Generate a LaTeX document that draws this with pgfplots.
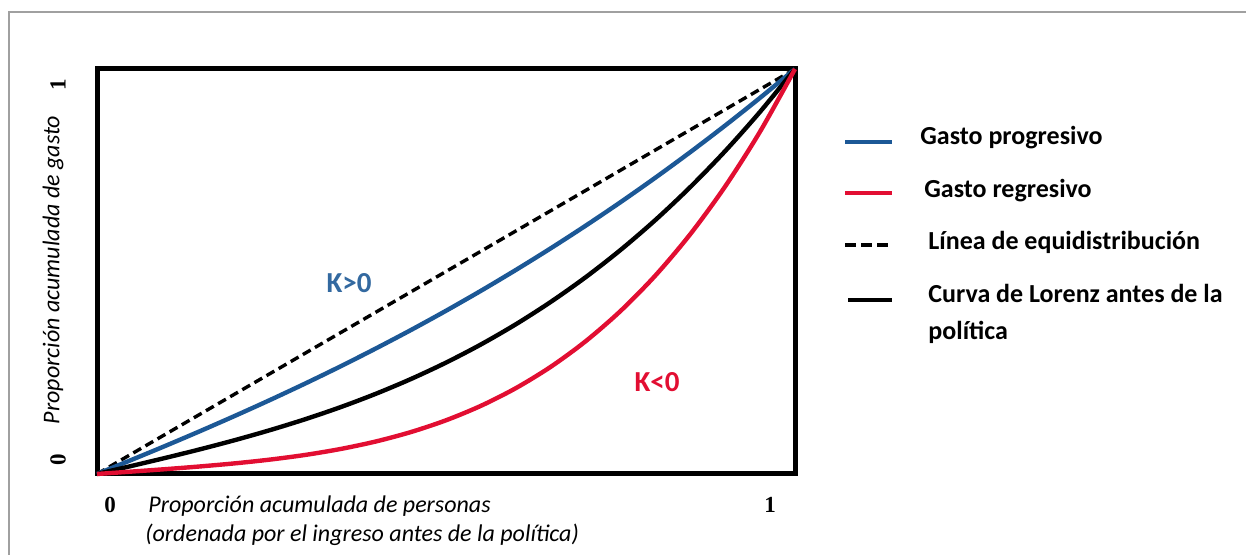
\documentclass[border=0pt]{standalone}
\usepackage{pgfplots}
\pgfplotsset{compat=1.18}
\usepackage{fontspec}
\setmainfont{Carlito}
\newfontfamily\tickfont{Liberation Serif}
\definecolor{progblue}{RGB}{28,88,150}
\definecolor{regred}{RGB}{226,14,50}
\definecolor{frameg}{RGB}{160,160,160}
\begin{document}
\begin{tikzpicture}
\path[use as bounding box] (0,0) rectangle (623pt,277.5pt);
\draw[frameg, line width=0.9pt] (4.5pt,-2pt) -- (4.5pt,271.5pt) -- (630pt,271.5pt);
\begin{axis}[
  at={(48.5pt,40.5pt)}, anchor=south west,
  scale only axis, width=349pt, height=202.5pt,
  xmin=0, xmax=1, ymin=0, ymax=1,
  ticks=none,
  axis line style={line width=2.5pt, line join=miter},
  clip=false,
]
\addplot[black, line width=1.7pt, dash pattern=on 4.5pt off 2.5pt] coordinates {(0,0) (1,1)};
\addplot[progblue, line width=2.2pt, smooth] coordinates {
 (0,0) (0.05,0.0352) (0.1,0.0709) (0.15,0.1076) (0.2,0.1454) (0.25,0.1844) (0.3,0.2248) (0.35,0.2667) (0.4,0.3104) (0.45,0.3557) (0.5,0.4030) (0.55,0.4523) (0.6,0.5037) (0.65,0.5572) (0.7,0.6130) (0.75,0.6711) (0.8,0.7317) (0.85,0.7948) (0.9,0.8605) (0.95,0.9289) (1,1)};
\addplot[black, line width=2.2pt, smooth] coordinates {
 (0,0) (0.05,0.0201) (0.1,0.0406) (0.15,0.0620) (0.2,0.0848) (0.25,0.1094) (0.3,0.1362) (0.35,0.1657) (0.4,0.1984) (0.45,0.2347) (0.5,0.2750) (0.55,0.3198) (0.6,0.3696) (0.65,0.4248) (0.7,0.4858) (0.75,0.5531) (0.8,0.6272) (0.85,0.7085) (0.9,0.7974) (0.95,0.8944) (1,1)};
\addplot[regred, line width=2.2pt, smooth] coordinates {
 (0,0) (0.05,0.0060) (0.1,0.0122) (0.15,0.0190) (0.2,0.0267) (0.25,0.0360) (0.3,0.0475) (0.35,0.0621) (0.4,0.0805) (0.45,0.1037) (0.5,0.1326) (0.55,0.1683) (0.6,0.2119) (0.65,0.2646) (0.7,0.3277) (0.75,0.4024) (0.8,0.4901) (0.85,0.5922) (0.9,0.7102) (0.95,0.8456) (1,1)};
\end{axis}
% tick labels
\node[font=\tickfont\bfseries\fontsize{11.5}{13}\selectfont] at (55pt,25pt) {0};
\node[font=\tickfont\bfseries\fontsize{11.5}{13}\selectfont] at (385pt,25pt) {1};
\node[font=\tickfont\bfseries\fontsize{11.5}{13}\selectfont, rotate=90] at (29pt,235pt) {1};
\node[font=\tickfont\bfseries\fontsize{11.5}{13}\selectfont, rotate=90] at (29pt,47.5pt) {0};
% axis labels
\node[font=\itshape\fontsize{12}{14.5}\selectfont, rotate=90] at (26.5pt,142.5pt) {Proporción acumulada de gasto};
\node[font=\itshape\fontsize{12}{14.5}\selectfont, anchor=mid west, inner sep=0pt] at (74pt,23.5pt) {Proporción acumulada de personas};
\node[font=\itshape\fontsize{12}{14.5}\selectfont, anchor=mid west, inner sep=0pt] at (72.5pt,9pt) {(ordenada por el ingreso antes de la política)};
% K labels
\node[font=\bfseries\fontsize{14.5}{16}\selectfont, text=progblue!90!white] at (174.5pt,136pt) {K>0};
\node[font=\bfseries\fontsize{14.5}{16}\selectfont, text=regred] at (328.5pt,86.5pt) {K<0};
% legend
\draw[progblue, line width=2.2pt] (422.5pt,206.5pt) -- (446pt,206.5pt);
\draw[regred, line width=2.2pt] (422.5pt,181pt) -- (446pt,181pt);
\draw[black, line width=1.8pt, dash pattern=on 5.5pt off 2.5pt] (422.5pt,155pt) -- (446pt,155pt);
\draw[black, line width=2.2pt] (424pt,127.5pt) -- (446pt,127.5pt);
\begin{scope}[every node/.style={font=\bfseries\fontsize{13}{15}\selectfont, anchor=mid west, inner sep=0pt}]
\node at (460pt,207.5pt) {Gasto progresivo};
\node at (462pt,181pt) {Gasto regresivo};
\node at (464pt,155pt) {Línea de equidistribución};
\node at (464pt,128.5pt) {Curva de Lorenz antes de la};
\node at (464pt,110pt) {política};
\end{scope}
\end{tikzpicture}
\end{document}
